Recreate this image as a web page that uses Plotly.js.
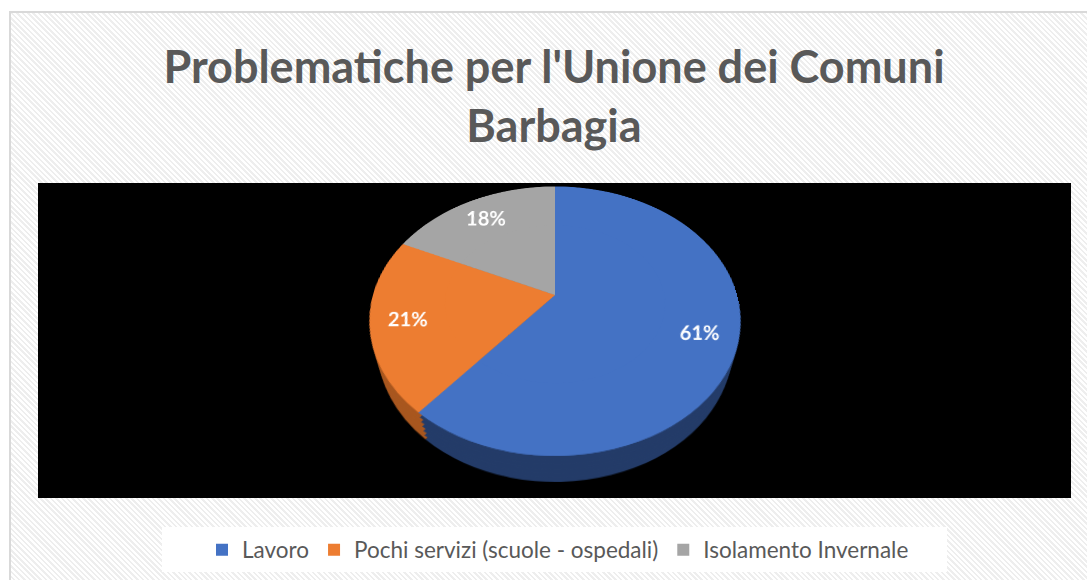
<!DOCTYPE html>
<html>
<head>
<meta charset="utf-8">
<script src="https://cdn.plot.ly/plotly-3.0.1.min.js"></script>
<style>
  html, body { margin: 0; padding: 0; background: #ffffff; }
  #wrap { position: relative; width: 1087px; height: 580px; overflow: hidden; background: #ffffff; }
  #frame {
    position: absolute; left: 9px; top: 11px; width: 1100px; height: 600px;
    border: 2px solid #d9d9d9;
    background: repeating-linear-gradient(45deg, #ffffff 0px, #ffffff 2px, #eeeeee 2px, #eeeeee 3.8px);
  }
  .layer { position: absolute; left: 0; top: 0; width: 1087px; height: 580px; }
  #base .pielayer { visibility: hidden; }
</style>
</head>
<body>
<div id="wrap">
  <div id="frame"></div>
  <div id="base" class="layer"></div>
</div>
<script>
// ---- data ----
const labels = ['Lavoro', 'Pochi servizi (scuole - ospedali)', 'Isolamento Invernale'];
const values = [61, 21, 18];
const topColors = ['#4472C4', '#ED7D31', '#A5A5A5'];
const sideColors = ['#233b68', '#a8561e', '#7a7a7a'];
const titleText = "Problematiche per l'Unione dei Comuni<br>Barbagia";

// ---- geometry (pixels) ----
const W = 1087, H = 580;
const pcx = 555, pcy = 295, R = 182;     // pie centre and radius (in its own plane)
const tilt = 44.6, persp = 657;          // 3D view of the pie
const depths = [42, 35, 28, 21, 14, 7];  // thickness of the pie side
const FONT = 'Lato, "Open Sans", sans-serif';

const pieDomain = {
  x: [(pcx - R) / W, (pcx + R) / W],
  y: [1 - (pcy + R) / H, 1 - (pcy - R) / H]
};

function pieLayout() {
  return {
    width: W, height: H, margin: { l: 0, r: 0, t: 0, b: 0 },
    paper_bgcolor: 'rgba(0,0,0,0)', plot_bgcolor: 'rgba(0,0,0,0)',
    showlegend: false, hovermode: false
  };
}
const cfg = { staticPlot: true, displayModeBar: false };

function addLayer(id, tz) {
  const d = document.createElement('div');
  d.id = id; d.className = 'layer';
  d.style.transformOrigin = pcx + 'px ' + pcy + 'px';
  d.style.transform = 'perspective(' + persp + 'px) rotateX(' + tilt + 'deg) translateZ(' + (-tz) + 'px)';
  document.getElementById('wrap').appendChild(d);
  return d;
}

// ---- base chart: title, plot area, legend ----
const baseLayout = {
  width: W, height: H,
  margin: { l: 0, r: 0, t: 0, b: 0 },
  paper_bgcolor: 'rgba(0,0,0,0)', plot_bgcolor: 'rgba(0,0,0,0)',
  title: {
    text: titleText,
    x: 554 / W, xanchor: 'center',
    y: 1 - 83 / H, yanchor: 'top', yref: 'container',
    font: { family: FONT, size: 45, color: '#595959', weight: 700 }
  },
  showlegend: true,
  legend: {
    orientation: 'h',
    x: 558 / W, xanchor: 'center',
    y: 1 - 550 / H, yanchor: 'middle',
    bgcolor: 'rgba(0,0,0,0)',
    font: { family: FONT, size: 22.5, color: '#595959' },
    traceorder: 'normal'
  },
  shapes: [
    { type: 'rect', xref: 'paper', yref: 'paper', layer: 'below',
      x0: 38 / W, x1: 1071 / W, y0: 1 - 498 / H, y1: 1 - 183 / H,
      fillcolor: '#000000', line: { width: 0 } },
    { type: 'rect', xref: 'paper', yref: 'paper', layer: 'below',
      x0: 162 / W, x1: 947 / W, y0: 1 - 572 / H, y1: 1 - 527 / H,
      fillcolor: '#ffffff', line: { width: 0 } }
  ],
  hovermode: false
};
const legendTrace = {
  type: 'pie', labels: labels, values: values, sort: false,
  direction: 'clockwise', rotation: 0,
  marker: { colors: topColors, line: { width: 0 } },
  textinfo: 'none', hoverinfo: 'skip', domain: pieDomain
};
Plotly.newPlot('base', [legendTrace], baseLayout, cfg);

// ---- pie side (stacked copies along the pie's normal) ----
depths.forEach((dz, i) => {
  const el = addLayer('side' + i, dz);
  Plotly.newPlot(el, [{
    type: 'pie', labels: labels, values: values, sort: false,
    direction: 'clockwise', rotation: 0,
    marker: { colors: sideColors, line: { width: 0 } },
    textinfo: 'none', hoverinfo: 'skip', domain: pieDomain
  }], pieLayout(), cfg);
});

// ---- pie top face ----
const topEl = addLayer('top', 0);
Plotly.newPlot(topEl, [
  {
    type: 'pie', labels: labels, values: values, sort: false,
    direction: 'clockwise', rotation: 0,
    marker: { colors: topColors, line: { width: 0 } },
    textinfo: 'none', hoverinfo: 'skip', domain: pieDomain
  },
  {
    type: 'pie', labels: labels, values: values, sort: false, hole: 0.6,
    direction: 'clockwise', rotation: 0,
    marker: { colors: topColors, line: { width: 0 } },
    textinfo: 'percent', textposition: 'inside', insidetextorientation: 'horizontal',
    textfont: { family: FONT, size: 20, color: '#ffffff', weight: 700 },
    hoverinfo: 'skip', domain: pieDomain
  }
], pieLayout(), cfg).then(gd => {
  // undo the local 3D distortion on each label so it reads flat and upright
  const a = tilt * Math.PI / 180, sa = Math.sin(a), ca = Math.cos(a);
  gd.querySelectorAll('text.slicetext').forEach(t => {
    const bb = t.getBBox();
    const bx = bb.x + bb.width / 2, by = bb.y + bb.height / 2;
    const m = t.getCTM();
    const X = (m.a * bx + m.c * by + m.e) - pcx;
    const Y = (m.b * bx + m.d * by + m.f) - pcy;
    const s = persp / (persp - Y * sa);
    const ma = 1 / s, mc = -X * sa / (persp * s * ca), md = 1 / (ca * s * s);
    const tr = t.getAttribute('transform') || '';
    t.setAttribute('transform', tr + ' translate(' + bx + ',' + by + ') matrix(' + ma + ',0,' + mc + ',' + md + ',0,0) translate(' + (-bx) + ',' + (-by) + ')');
  });
});
</script>
</body>
</html>
